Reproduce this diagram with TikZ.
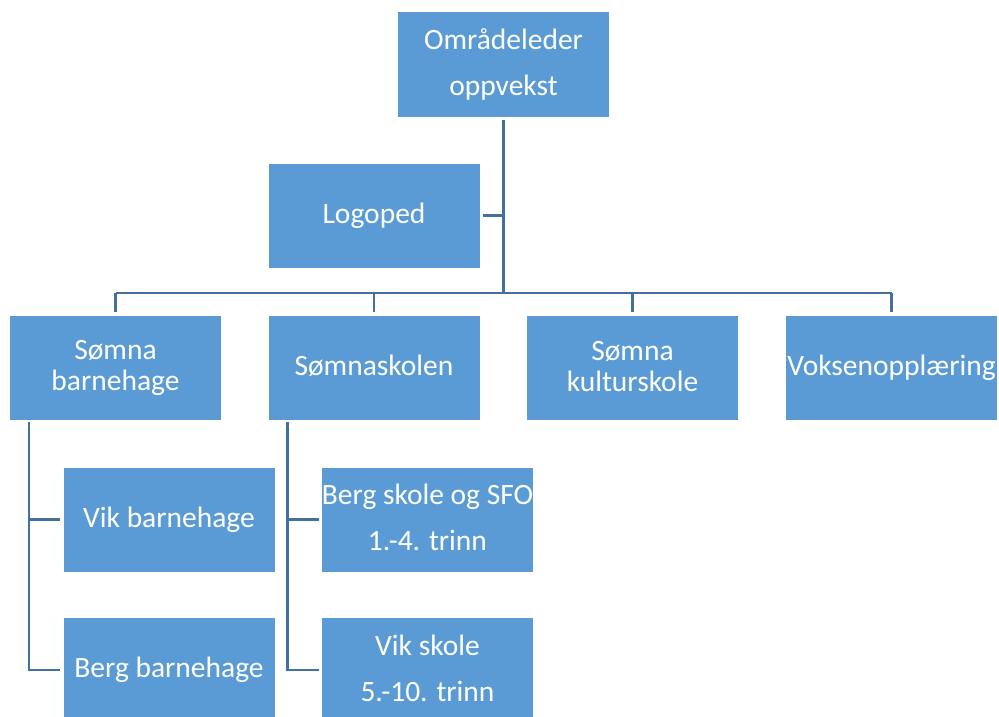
\documentclass[tikz,border=0pt]{standalone}
\usepackage{fontspec}
\setmainfont{Carlito}
\definecolor{boxblue}{HTML}{5B9BD5}
\definecolor{lineblue}{HTML}{41719C}
\newcommand{\lst}{\rule[-5pt]{0pt}{26pt}}
\tikzset{
  orgbox/.style={rectangle, fill=boxblue, minimum width=211pt, minimum height=104pt,
    inner sep=0pt, text=white, align=center, font=\fontsize{29.5}{31}\selectfont},
  conn/.style={draw=lineblue, line width=2.2pt},
}
\begin{document}
\begin{tikzpicture}[x=1pt,y=-1pt]
\useasboundingbox (0,0) rectangle (999,717);
\fill[white] (0,0) rectangle (999,717);
\begin{scope}
\clip (0,0) rectangle (999,717);
\node[orgbox] (top) at (503.5,64.5) {\lst Områdeleder\\[15pt]\lst oppvekst};
\node[orgbox] (logo) at (374,215.5) {\lst Logoped};
\node[orgbox] (sbh) at (115.5,367.5) {\lst Sømna\\\lst barnehage};
\node[orgbox] (sko) at (374,367.5) {\lst Sømnaskolen};
\node[orgbox] (kul) at (632.5,367.5) {\lst Sømna\\\lst kulturskole};
\node[orgbox] (vok) at (891.5,367.5) {\lst Voksenopplæring};
\node[orgbox] (vikbh) at (169,519.5) {\lst Vik barnehage};
\node[orgbox] (bergbh) at (169,670) {\lst Berg barnehage};
\node[orgbox] (bergsk) at (427.5,519.5) {\lst Berg skole og SFO\\[15pt]\lst 1.-4. trinn};
\node[orgbox] (viksk) at (427.5,670) {\lst Vik skole\\[15pt]\lst 5.-10. trinn};

\coordinate (bus) at (503.5,293);
\coordinate (b1) at (115.5,293);
\coordinate (b2) at (374,293);
\coordinate (b3) at (632.5,293);
\coordinate (b4) at (891.5,293);
\coordinate (c1) at (29,419);
\coordinate (c2) at (287.5,419);

\draw[conn, shorten <=3pt] (top.south) -- (bus);
\draw[conn, shorten <=3pt] (logo.east) -- (logo.east -| bus);
\draw[conn] (b1) -- (b4);
\draw[conn, shorten >=3pt] (b1) -- (sbh.north);
\draw[conn, shorten >=3pt] (b2) -- (sko.north);
\draw[conn, shorten >=3pt] (b3) -- (kul.north);
\draw[conn, shorten >=3pt] (b4) -- (vok.north);
\draw[conn, shorten <=3pt, shorten >=3pt] (c1) |- (vikbh.west);
\draw[conn, shorten <=3pt, shorten >=3pt] (c1) |- (bergbh.west);
\draw[conn, shorten <=3pt, shorten >=3pt] (c2) |- (bergsk.west);
\draw[conn, shorten <=3pt, shorten >=3pt] (c2) |- (viksk.west);
\end{scope}
\end{tikzpicture}
\end{document}
